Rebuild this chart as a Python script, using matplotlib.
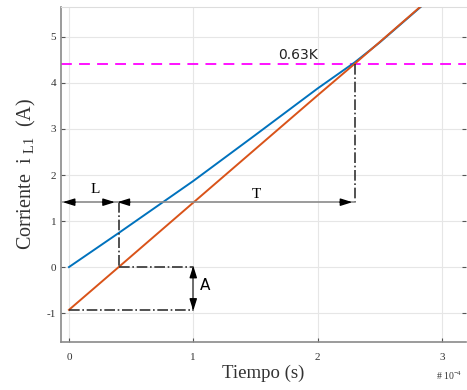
import numpy as np
import matplotlib.pyplot as plt
import matplotlib as mpl

mpl.rcParams['font.family'] = ['Liberation Serif', 'DejaVu Serif']
mpl.rcParams['mathtext.fontset'] = 'custom'
mpl.rcParams['mathtext.rm'] = 'Liberation Serif'
mpl.rcParams['mathtext.it'] = 'Liberation Serif:italic'
mpl.rcParams['axes.unicode_minus'] = False

# data (time in units of 1e-4 s)
t_blue = [0, 0.4, 1.0, 1.5, 2.0, 2.3, 2.5, 2.85]
i_blue = [0, 0.74, 1.87, 2.87, 3.88, 4.45, 4.88, 5.7]
t_orange = [0, 0.4, 1.0, 2.0, 2.3, 2.85]
i_orange = [-0.93, 0.0, 1.4, 3.73, 4.42, 5.71]

K63 = 4.41      # 0.63K level
L_end = 0.4     # dead time
T_end = 2.3     # time constant point
A_low = -0.93   # initial value
arrow_y = 1.41  # height of L / T arrows

fig = plt.figure(figsize=(4.67, 3.9), dpi=100)
ax = fig.add_axes([0.1306, 0.124, 0.868, 0.858])

ax.plot(t_blue, i_blue, color='#0072BD', lw=1.4, zorder=3)
ax.plot(t_orange, i_orange, color='#D95319', lw=1.4, zorder=3)

# 0.63K line
ax.axhline(K63, color='#FF00FF', ls=(0, (6, 4)), lw=1.3, zorder=2)
ax.text(1.68, K63 + 0.12, '0.63K', family='DejaVu Sans', fontsize=10, color='#222222')

# dash-dot construction lines
dd = dict(color='#333333', ls='-.', lw=1.2, zorder=4)
ax.plot([L_end, L_end], [arrow_y, 0], **dd)
ax.plot([L_end, 1.0], [0, 0], **dd)
ax.plot([0, 1.0], [A_low, A_low], **dd)
ax.plot([T_end, T_end], [K63, arrow_y], **dd)

# horizontal L and T arrows (gray shaft, black heads)
x_left = -0.05
ax.plot([x_left, T_end], [arrow_y, arrow_y], color='#8a8a8a', lw=1.2, zorder=4)
head = dict(arrowstyle='-|>,head_length=0.7,head_width=0.22', color='black', lw=1.0, shrinkA=0, shrinkB=0)
for x_tip, x_from in [(x_left, x_left + 0.1), (L_end - 0.03, L_end - 0.13),
                      (L_end - 0.01, L_end + 0.09), (T_end - 0.02, T_end - 0.12)]:
    ax.annotate('', xy=(x_tip, arrow_y), xytext=(x_from, arrow_y), arrowprops=head, zorder=5)

# vertical A arrow
ax.plot([1.0, 1.0], [0.0, A_low], color='#555555', lw=1.2, zorder=4)
for y_tip, y_from in [(0.03, -0.2), (A_low - 0.02, A_low + 0.21)]:
    ax.annotate('', xy=(1.0, y_tip), xytext=(1.0, y_from), arrowprops=head, zorder=5)

ax.text(0.17, 1.6, 'L', fontsize=11, color='black')
ax.text(1.47, 1.5, 'T', fontsize=11, color='black')
ax.text(1.05, -0.5, 'A', family='DejaVu Sans', fontsize=11, color='black')

ax.set_xlim(-0.064, 3.197)
ax.set_ylim(-1.62, 5.65)
ax.set_xticks([0, 1, 2, 3])
ax.set_yticks([-1, 0, 1, 2, 3, 4, 5])
ax.grid(True, color='#e6e6e6', lw=0.8)
ax.set_axisbelow(True)
ax.tick_params(direction='in', length=3, labelsize=8, colors='#555555',
               labelcolor='#333333', right=True, top=False)
ax.tick_params(axis='x', pad=8)
for s in ['left', 'bottom']:
    ax.spines[s].set_color('#8a8a8a')
    ax.spines[s].set_linewidth(1.2)
ax.spines['top'].set_color('#dddddd')
ax.spines['right'].set_visible(False)

ax.set_ylabel(r'Corriente  i $_{\mathrm{L1}}$  (A)', fontsize=14.5, color='#333333', labelpad=6)
ax.set_xlabel('Tiempo (s)', fontsize=13.5, color='#333333', labelpad=2)
fig.text(0.933, 0.025, r'# 10$^{-4}$', fontsize=7, color='#333333')

fig.savefig('out.png', dpi=100)
